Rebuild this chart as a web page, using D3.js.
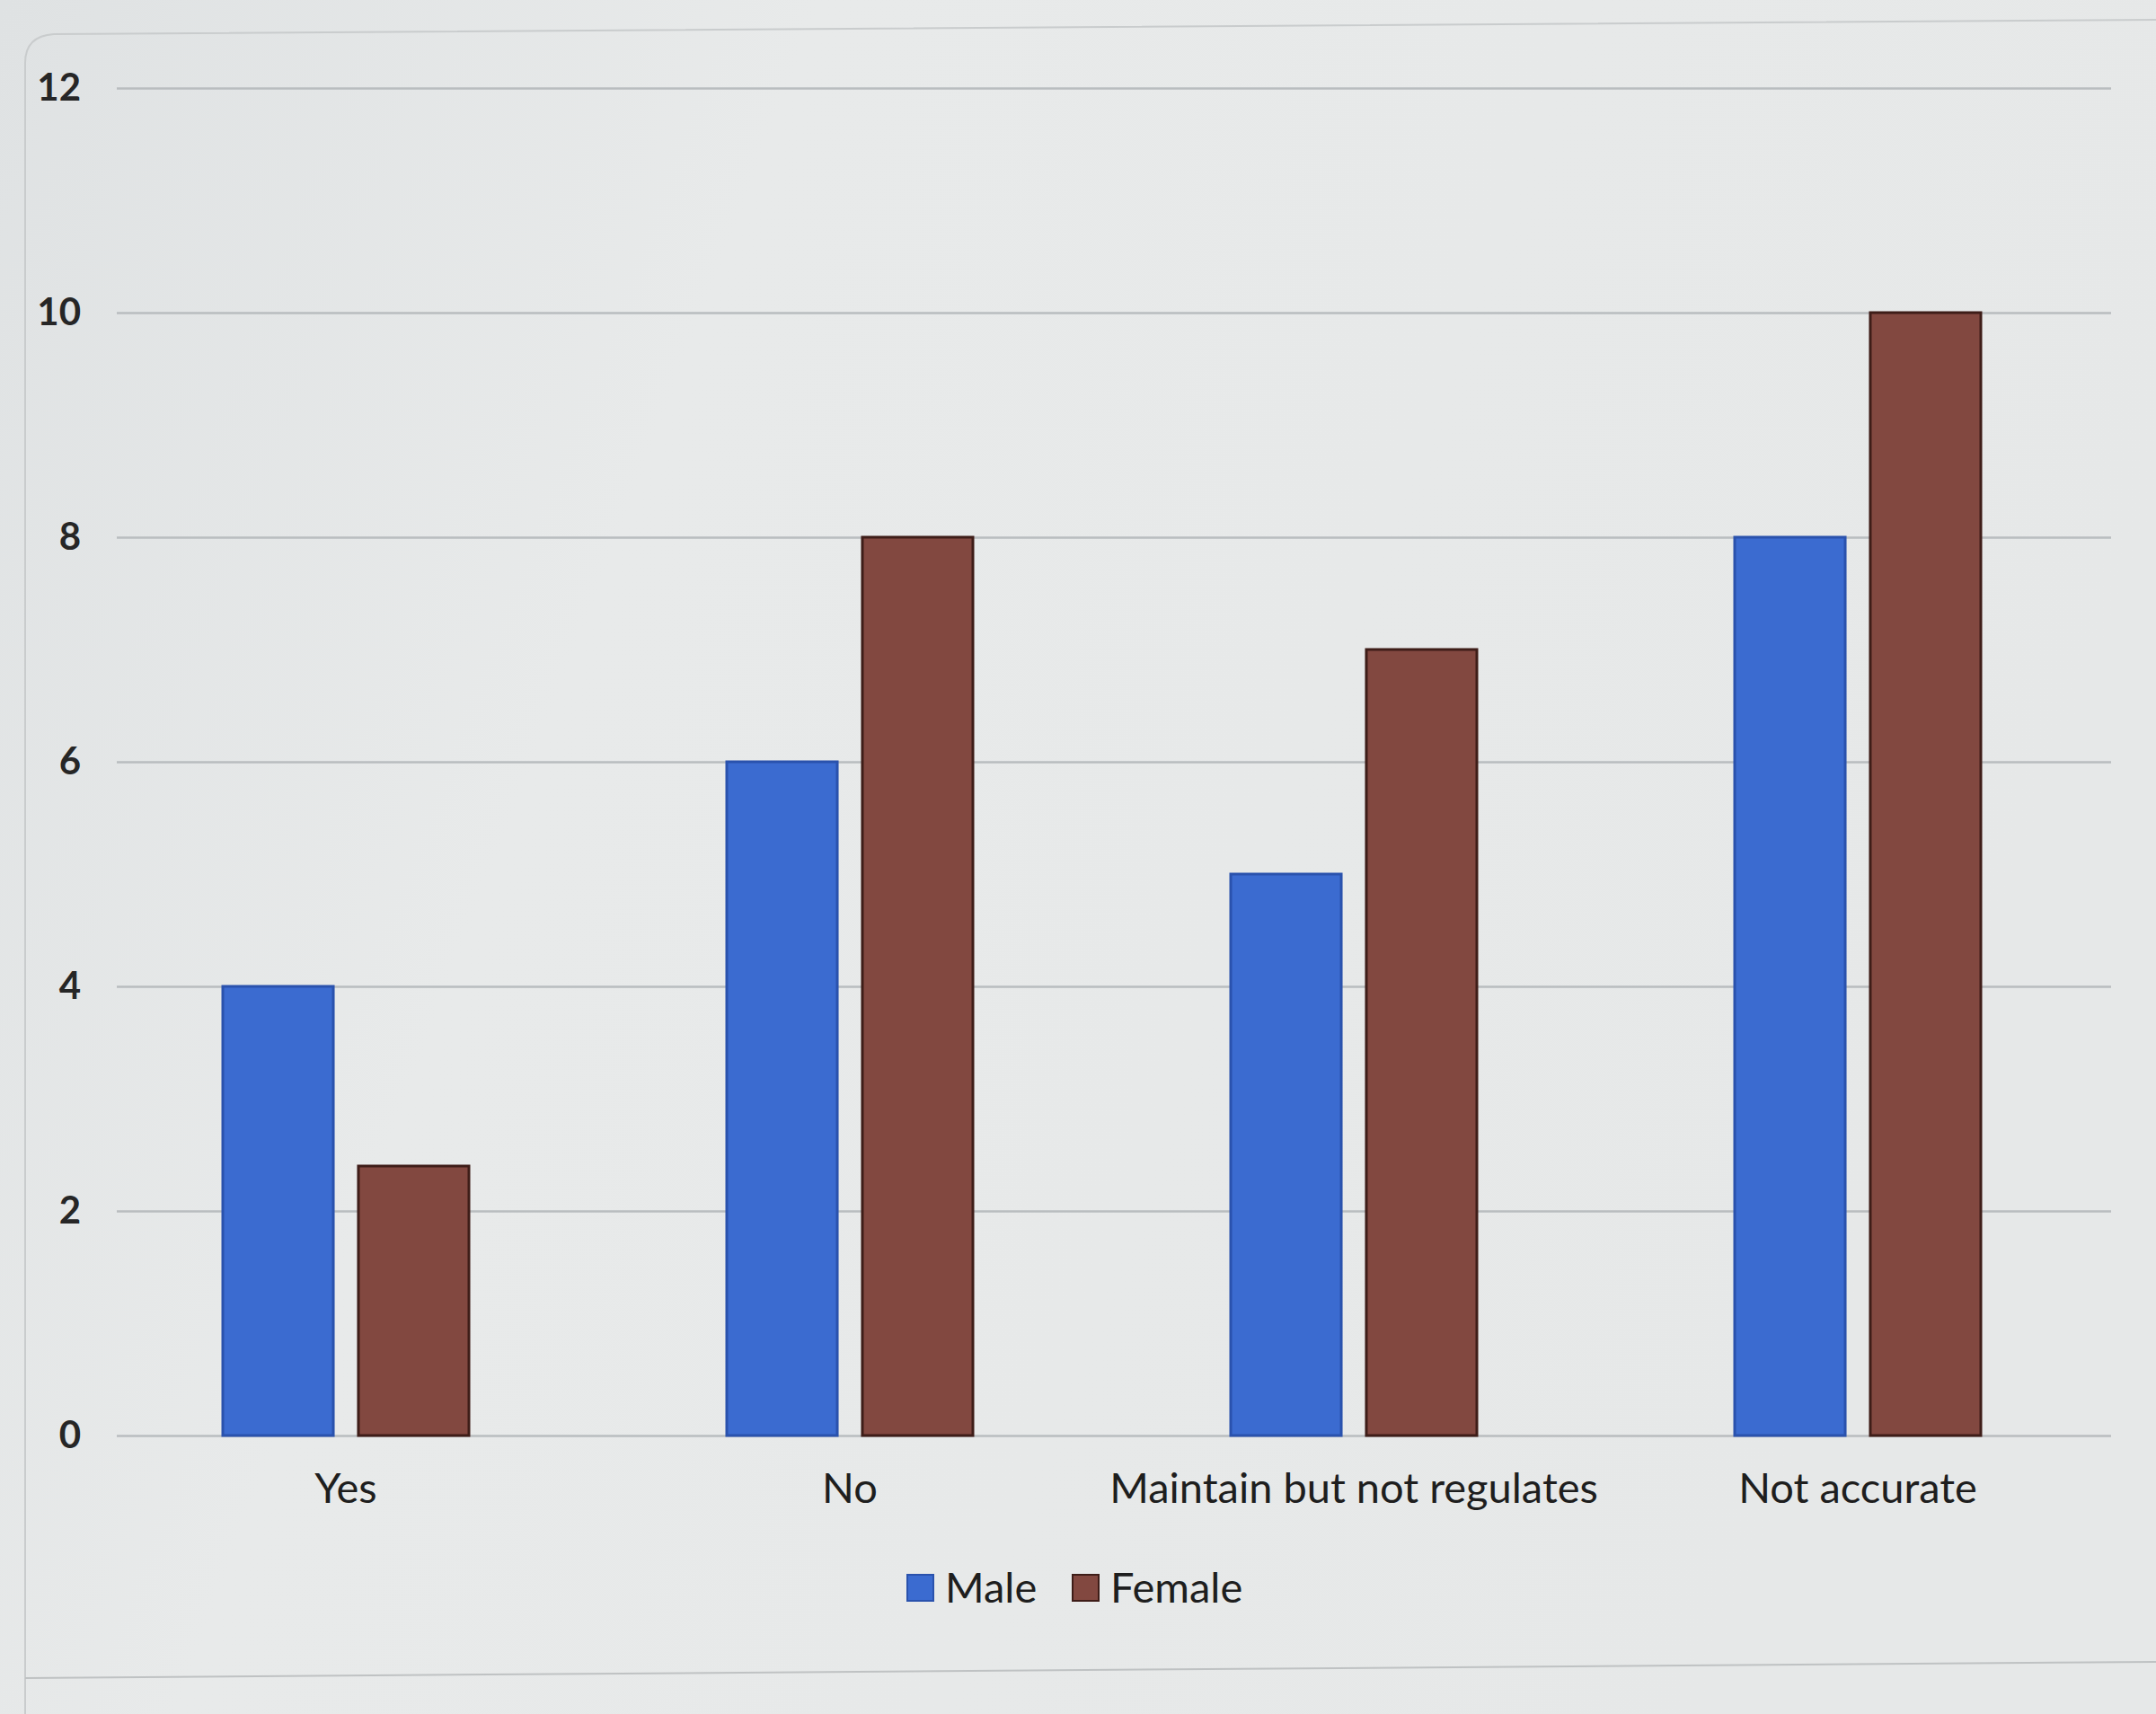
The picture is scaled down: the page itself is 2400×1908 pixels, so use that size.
<!DOCTYPE html>
<html>
<head>
<meta charset="utf-8">
<script src="https://cdn.jsdelivr.net/npm/d3@7"></script>
<style>
  html, body { margin: 0; padding: 0; background: #e5e8e8; }
  svg { display: block; }
</style>
</head>
<body>
<svg id="chart" width="2400" height="1908"></svg>
<script>
// Responses by gender
const categories = ["Yes", "No", "Maintain but not regulates", "Not accurate"];
const seriesNames = ["Male", "Female"];
const maleValues = [4, 6, 5, 8];
const femaleValues = [2.4, 8, 7, 10];
const yTicks = [0, 2, 4, 6, 8, 10, 12];

const colors = { Male: "#3b6bd0", Female: "#824840" };
const outlines = { Male: "#2a52ad", Female: "#3e1d18" };

const W = 2400, H = 1908;
const plot = { left: 130, right: 2350, top: 98, bottom: 1598 };

const svg = d3.select("#chart");

// paper background with a soft light falloff
const defs = svg.append("defs");
const bg = defs.append("linearGradient").attr("id", "paper")
  .attr("x1", "0").attr("x2", "1").attr("y1", "0").attr("y2", "0.3");
bg.append("stop").attr("offset", "0").attr("stop-color", "#dfe2e3");
bg.append("stop").attr("offset", "0.35").attr("stop-color", "#e8eaea");
bg.append("stop").attr("offset", "1").attr("stop-color", "#e6e8e8");
svg.append("rect").attr("width", W).attr("height", H).attr("fill", "url(#paper)");

// chart frame
svg.append("path")
  .attr("d", "M28,1908 L28,70 Q28,40 60,38 L2400,22")
  .attr("fill", "none").attr("stroke", "#c9cccd").attr("stroke-width", 2);
svg.append("line")
  .attr("x1", 28).attr("x2", 2400).attr("y1", 1868).attr("y2", 1850)
  .attr("stroke", "#bfc2c3").attr("stroke-width", 2);

const rows = categories.map((c, i) => ({
  category: c,
  values: [
    { key: "Male", value: maleValues[i] },
    { key: "Female", value: femaleValues[i] }
  ]
}));

const x0 = d3.scaleBand()
  .domain(categories)
  .range([104.5, 2348.5])
  .paddingInner(0.5116)
  .paddingOuter(0.2558);

const x1 = d3.scaleBand()
  .domain(seriesNames)
  .range([0, x0.bandwidth()])
  .paddingInner(0.185)
  .paddingOuter(0);

const y = d3.scaleLinear()
  .domain([0, 12])
  .range([plot.bottom, plot.top]);

// value axis with gridlines
const yAxis = svg.append("g")
  .attr("transform", `translate(${plot.left},0)`)
  .call(d3.axisLeft(y)
    .tickValues(yTicks)
    .tickSize(-(plot.right - plot.left))
    .tickPadding(40)
    .tickFormat(d3.format("d")));
yAxis.select(".domain").remove();
yAxis.selectAll(".tick line")
  .attr("stroke", "#b9bdbf")
  .attr("stroke-width", 2.5);
yAxis.selectAll(".tick text")
  .attr("fill", "#262626")
  .style("font-family", "Lato, 'Open Sans', sans-serif")
  .style("font-size", "42px")
  .style("font-weight", "bold");

// bars
const groups = svg.append("g").selectAll("g")
  .data(rows)
  .join("g")
  .attr("transform", d => `translate(${x0(d.category)},0)`);

groups.selectAll("rect")
  .data(d => d.values)
  .join("rect")
  .attr("x", d => x1(d.key))
  .attr("y", d => y(d.value))
  .attr("width", x1.bandwidth())
  .attr("height", d => y(0) - y(d.value))
  .attr("fill", d => colors[d.key])
  .attr("stroke", d => outlines[d.key])
  .attr("stroke-width", 3);

// category axis
const xAxis = svg.append("g")
  .attr("transform", `translate(0,${plot.bottom})`)
  .call(d3.axisBottom(x0).tickSize(0).tickPadding(42));
xAxis.select(".domain").remove();
xAxis.selectAll(".tick text")
  .attr("fill", "#1e1e1e")
  .style("font-family", "Lato, 'Open Sans', sans-serif")
  .style("font-size", "47px");

// legend
const legend = svg.append("g")
  .attr("transform", "translate(1010,1768)")
  .style("font-family", "Lato, 'Open Sans', sans-serif")
  .style("font-size", "47px");
const legendItems = legend.selectAll("g")
  .data(seriesNames)
  .join("g")
  .attr("transform", (d, i) => `translate(${i * 184},0)`);
legendItems.append("rect")
  .attr("x", 0).attr("y", -15)
  .attr("width", 29).attr("height", 29)
  .attr("fill", d => colors[d])
  .attr("stroke", d => outlines[d])
  .attr("stroke-width", 2);
legendItems.append("text")
  .attr("x", 42).attr("y", 0)
  .attr("dy", "0.35em")
  .attr("fill", "#1e1e1e")
  .text(d => d);
</script>
</body>
</html>
